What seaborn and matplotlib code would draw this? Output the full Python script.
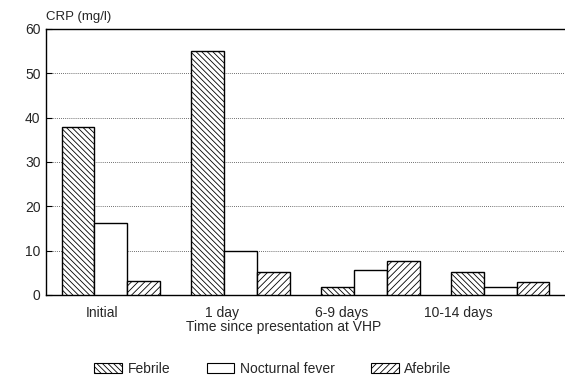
import matplotlib
matplotlib.use("Agg")
import matplotlib.pyplot as plt
import matplotlib.patches as mpatches
from matplotlib.transforms import ScaledTranslation
import seaborn as sns
import pandas as pd

categories = ["Initial", "1 day", "6-9 days", "10-14 days"]
groups = ["Febrile", "Nocturnal fever", "Afebrile"]
febrile = [38.0, 55.0, 1.9, 5.3]
nocturnal = [16.3, 10.0, 5.6, 1.7]
afebrile = [3.2, 5.3, 7.6, 2.9]
yticks = [0, 10, 20, 30, 40, 50, 60]

rows = []
for g, vals in zip(groups, [febrile, nocturnal, afebrile]):
    for c, v in zip(categories, vals):
        rows.append({"time": c, "group": g, "crp": v})
df = pd.DataFrame(rows)

sns.set_style("white")
plt.rcParams["font.family"] = ["Liberation Sans", "DejaVu Sans"]
plt.rcParams["hatch.linewidth"] = 0.6
plt.rcParams["hatch.color"] = "black"

fig = plt.figure(figsize=(5.65, 3.75), dpi=100)
ax = fig.add_axes([46/565, 80/375, 519/565, 266/375])

hatches = {"Febrile": "\\\\\\\\\\\\", "Nocturnal fever": "", "Afebrile": "/////"}
sns.barplot(data=df, x="time", y="crp", hue="group", order=categories,
            hue_order=groups, palette=["white"]*3, edgecolor="black",
            linewidth=1.0, width=0.76, ax=ax, legend=False, saturation=1)

for cont, g in zip(ax.containers, groups):
    for bar in cont:
        bar.set_hatch(hatches[g])
        bar.set_edgecolor("black")
        bar.set_zorder(3)

ax.set_xlim(-0.5, 3.5)
ax.set_ylim(0, 60)
ax.set_yticks(yticks)
ax.set_yticklabels([str(t) for t in yticks], fontsize=10)
ax.tick_params(axis="both", direction="in", length=4, width=0.8, color="black",
               left=True, bottom=True, labelsize=10, pad=4)
ax.tick_params(axis="x", pad=8)
ax.yaxis.grid(True, linestyle=(0, (1, 1.5)), color="0.25", linewidth=0.6, zorder=0)
ax.set_axisbelow(True)
for s in ["left", "bottom", "top"]:
    ax.spines[s].set_visible(True)
    ax.spines[s].set_color("black")
    ax.spines[s].set_linewidth(1.0)
ax.spines["right"].set_visible(False)

# tick labels in the reference sit a little left of the group centres
label_shift_px = [-9, -19, -29, -42]
for lab, dx in zip(ax.get_xticklabels(), label_shift_px):
    lab.set_transform(lab.get_transform() + ScaledTranslation(dx/100, 0, fig.dpi_scale_trans))

ax.set_ylabel("")
ax.set_xlabel("Time since presentation at VHP", fontsize=10, labelpad=0)
ax.xaxis.label.set_transform(ax.xaxis.label.get_transform() +
                             ScaledTranslation(-22/100, 0, fig.dpi_scale_trans))
fig.text(46/565, 1 - 17/375, "CRP (mg/l)", fontsize=9.5, ha="left", va="center")

handles = [mpatches.Patch(facecolor="white", edgecolor="black", hatch=hatches[g], linewidth=0.8)
           for g in groups]
fig.legend(handles, groups, loc="center", bbox_to_anchor=(273/565, 1 - 369/375),
           ncol=3, frameon=False, fontsize=10, handlelength=2.0, handleheight=0.8,
           columnspacing=2.6, handletextpad=0.4)

fig.savefig("out.png", dpi=100)
